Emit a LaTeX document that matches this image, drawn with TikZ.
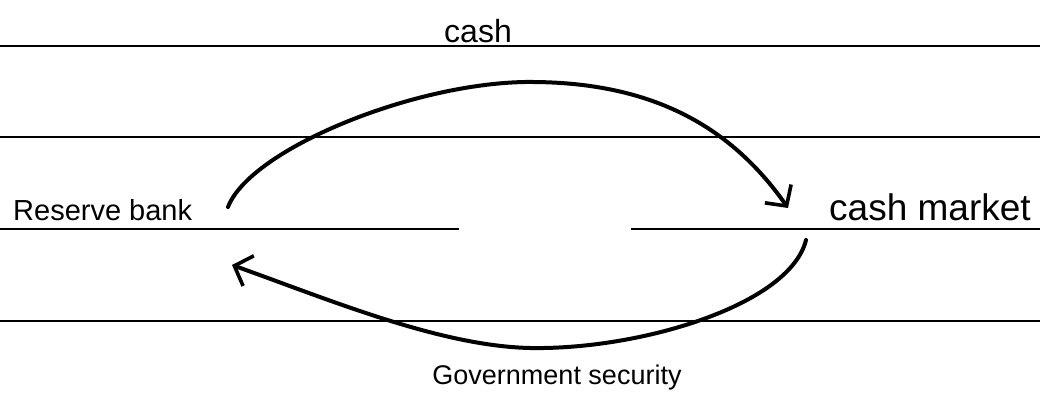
\documentclass[tikz,border=0pt]{standalone}
\usepackage{fontspec}
\setmainfont{Liberation Sans}
\usetikzlibrary{arrows.meta}
\tikzset{
  rule/.style={line width=1.8pt, black},
  flow/.style={line width=4pt, line cap=round, line join=round,
    -{Straight Barb[length=15pt, width=32pt, line width=3.6pt]}},
  lbl/.style={inner sep=0pt}
}
\begin{document}
\begin{tikzpicture}[x=1pt,y=-1pt]
\useasboundingbox (0,0) rectangle (1040,396);
% ruled lines
\draw[rule] (0,46) -- (1040,46);
\draw[rule] (0,137) -- (1040,137);
\draw[rule] (0,229) -- (459,229);
\draw[rule] (631,229) -- (1040,229);
\draw[rule] (0,321) -- (1040,321);
% labels
\node[lbl, anchor=base, font=\fontsize{32}{36}\selectfont] (cash) at (478,43) {cash};
\node[lbl, anchor=base west, font=\fontsize{29}{34}\selectfont] (rb) at (13,220) {Reserve bank};
\node[lbl, anchor=base west, font=\fontsize{37}{42}\selectfont] (cm) at (829,220) {cash market};
\node[lbl, anchor=base, font=\fontsize{27}{32}\selectfont] (gs) at (557,384) {Government security};
% anchor points near the labels
\coordinate (rbTop) at (228,207);
\coordinate (cmTop) at (788,208);
\coordinate (cmBot) at (806,240);
\coordinate (rbBot) at (232,265);
% flows
\draw[flow] (rbTop) .. controls (250,150) and (410,84) .. (525,82)
  .. controls (640,81) and (725,118) .. (cmTop);
\draw[flow] (cmBot) .. controls (790,305) and (640,350) .. (530,348)
  .. controls (440,346) and (330,300) .. (rbBot);
\end{tikzpicture}
\end{document}
